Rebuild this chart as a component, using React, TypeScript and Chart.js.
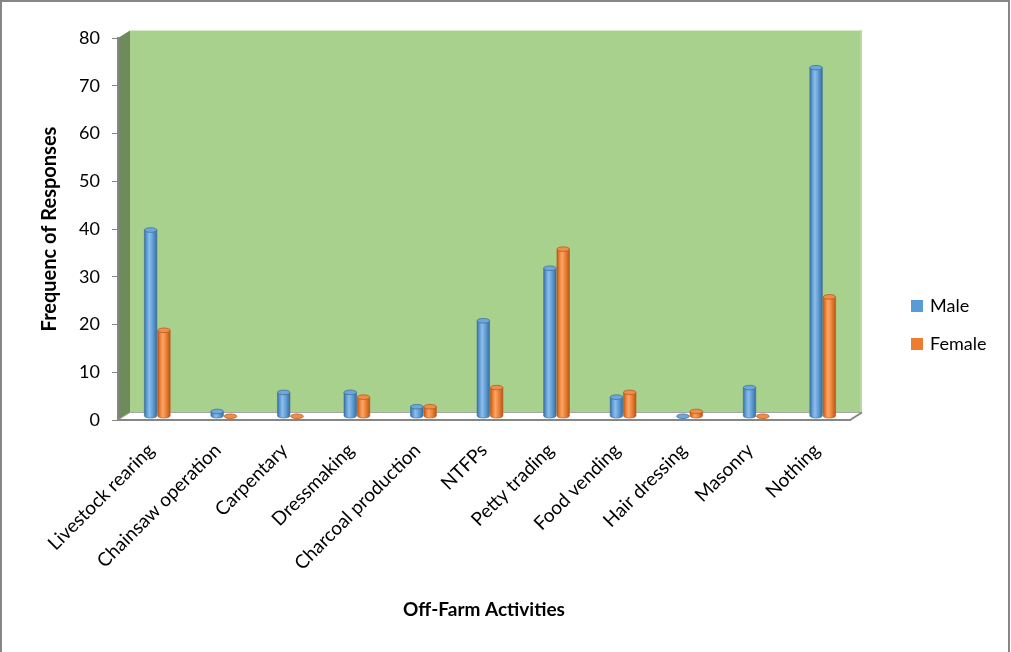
import React, { useEffect, useRef } from "react";
import { Chart, registerables } from "chart.js";

Chart.register(...registerables);

const categories = [
  "Livestock rearing",
  "Chainsaw operation",
  "Carpentary",
  "Dressmaking",
  "Charcoal production",
  "NTFPs",
  "Petty trading",
  "Food vending",
  "Hair dressing",
  "Masonry",
  "Nothing",
];
const maleValues = [39, 1, 5, 5, 2, 20, 31, 4, 0, 6, 73];
const femaleValues = [18, 0, 0, 4, 2, 6, 35, 5, 1, 0, 25];
const seriesNames = ["Male", "Female"];
const yMin = 0;
const yMax = 80;
const yStep = 10;
const xTitle = "Off-Farm Activities";
const yTitle = "Frequenc of Responses";

const FONT = "Lato, 'Liberation Sans', sans-serif";
const DEPTH_X = 12;
const DEPTH_Y = 7.5;

const palettes = [
  { edge: "#3b6c9a", mid: "#5b9bd5", light: "#8fbde8", top: "#6da8dd", stroke: "#41719c" },
  { edge: "#b3561a", mid: "#ed7d31", light: "#f8a76a", top: "#f18d48", stroke: "#b85d1f" },
];

function drawCylinder(ctx: CanvasRenderingContext2D, x: number, top: number, bottom: number, w: number, p: any) {
  const rx = w / 2;
  const ry = 2.3;
  ctx.save();
  if (bottom - top > 0.5) {
    const g = ctx.createLinearGradient(x - rx, 0, x + rx, 0);
    g.addColorStop(0, p.edge);
    g.addColorStop(0.18, p.mid);
    g.addColorStop(0.4, p.light);
    g.addColorStop(0.7, p.mid);
    g.addColorStop(1, p.edge);
    ctx.beginPath();
    ctx.moveTo(x - rx, top);
    ctx.lineTo(x - rx, bottom);
    ctx.ellipse(x, bottom, rx, ry, 0, Math.PI, 0, true);
    ctx.lineTo(x + rx, top);
    ctx.closePath();
    ctx.fillStyle = g;
    ctx.fill();
    ctx.strokeStyle = p.stroke;
    ctx.lineWidth = 0.6;
    ctx.stroke();
  }
  ctx.beginPath();
  ctx.ellipse(x, top, rx, ry, 0, 0, Math.PI * 2);
  ctx.fillStyle = p.top;
  ctx.fill();
  ctx.strokeStyle = p.stroke;
  ctx.lineWidth = 0.8;
  ctx.stroke();
  ctx.restore();
}

const framePlugin = {
  id: "frame3d",
  beforeDraw(chart: any) {
    const { ctx, chartArea, width, height } = chart;
    const { left, right, top, bottom } = chartArea;
    ctx.save();
    ctx.fillStyle = "#ffffff";
    ctx.fillRect(0, 0, width, height);
    // outer border
    ctx.strokeStyle = "#868686";
    ctx.lineWidth = 2;
    ctx.beginPath();
    ctx.moveTo(1, height);
    ctx.lineTo(1, 1);
    ctx.lineTo(width - 2, 1);
    ctx.lineTo(width - 2, height);
    ctx.stroke();
    // back wall
    ctx.fillStyle = "#a9d18e";
    ctx.fillRect(left + DEPTH_X, top - DEPTH_Y, right - left, bottom - top);
    ctx.fillStyle = "#b7d9a0";
    ctx.fillRect(right + DEPTH_X - 2, top - DEPTH_Y, 2, bottom - top);
    // left side wall
    ctx.fillStyle = "#6f8b5c";
    ctx.beginPath();
    ctx.moveTo(left, top);
    ctx.lineTo(left + DEPTH_X, top - DEPTH_Y);
    ctx.lineTo(left + DEPTH_X, bottom - DEPTH_Y);
    ctx.lineTo(left, bottom);
    ctx.closePath();
    ctx.fill();
    // floor
    ctx.fillStyle = "#ffffff";
    ctx.strokeStyle = "#a6a6a6";
    ctx.lineWidth = 1;
    ctx.beginPath();
    ctx.moveTo(left, bottom);
    ctx.lineTo(left + DEPTH_X, bottom - DEPTH_Y);
    ctx.lineTo(right + DEPTH_X, bottom - DEPTH_Y);
    ctx.lineTo(right, bottom);
    ctx.closePath();
    ctx.fill();
    ctx.stroke();
    ctx.strokeStyle = "#868686";
    ctx.lineWidth = 2;
    ctx.beginPath();
    ctx.moveTo(right, bottom);
    ctx.lineTo(right + DEPTH_X, bottom - DEPTH_Y);
    ctx.stroke();
    ctx.restore();
  },
  afterDatasetsDraw(chart: any) {
    const ctx = chart.ctx;
    const dx = DEPTH_X / 2;
    const dy = -DEPTH_Y / 2;
    chart.data.datasets.forEach((_ds: any, i: number) => {
      const meta = chart.getDatasetMeta(i);
      meta.data.forEach((bar: any) => {
        const { x, y, base, width } = bar.getProps(["x", "y", "base", "width"], true);
        drawCylinder(ctx, x + dx, y + dy, base + dy, width, palettes[i]);
      });
    });
  },
  afterDraw(chart: any) {
    const ctx = chart.ctx;
    ctx.save();
    const colors = ["#5b9bd5", "#ed7d31"];
    const lx = 911;
    const ys = [306, 344];
    ctx.font = `18px ${FONT}`;
    ctx.textBaseline = "middle";
    ctx.textAlign = "left";
    seriesNames.forEach((name, i) => {
      ctx.fillStyle = colors[i];
      ctx.fillRect(lx, ys[i] - 6, 12, 12);
      ctx.fillStyle = "#000000";
      ctx.fillText(name, lx + 19, ys[i]);
    });
    ctx.restore();
  },
};

export default function App() {
  const ref = useRef<HTMLCanvasElement | null>(null);
  useEffect(() => {
    if (!ref.current) return;
    const chart = new Chart(ref.current, {
      type: "bar",
      data: {
        labels: categories,
        datasets: [
          { label: seriesNames[0], data: maleValues, backgroundColor: "rgba(0,0,0,0)", categoryPercentage: 0.4, barPercentage: 0.94 },
          { label: seriesNames[1], data: femaleValues, backgroundColor: "rgba(0,0,0,0)", categoryPercentage: 0.4, barPercentage: 0.94 },
        ],
      },
      options: {
        responsive: false,
        animation: false,
        layout: { padding: { top: 38, right: 161, bottom: 0, left: 0 } },
        plugins: { legend: { display: false }, tooltip: { enabled: false } },
        scales: {
          x: {
            grid: { display: false },
            border: { display: true, color: "#868686", width: 2 },
            ticks: {
              color: "#000000",
              font: { family: FONT, size: 19 },
              minRotation: 45,
              maxRotation: 45,
              padding: 11,
              autoSkip: false,
            },
            title: {
              display: true,
              text: xTitle,
              color: "#000000",
              font: { family: FONT, size: 19, weight: "bold" },
              padding: { top: 0, bottom: 31 },
            },
            afterFit: (scale: any) => {
              scale.height = 232;
            },
          },
          y: {
            min: yMin,
            max: yMax,
            grid: { drawOnChartArea: false, drawTicks: true, tickLength: 6, color: "#868686", lineWidth: 1 },
            border: { display: true, color: "#868686", width: 2 },
            ticks: {
              stepSize: yStep,
              color: "#000000",
              font: { family: FONT, size: 18 },
              padding: 12,
            },
            title: {
              display: true,
              text: yTitle,
              color: "#000000",
              font: { family: FONT, size: 20, weight: "bold" },
              padding: { top: 38, bottom: 0 },
            },
            afterFit: (scale: any) => {
              scale.width = 118;
            },
          },
        },
      },
      plugins: [framePlugin],
    });
    return () => chart.destroy();
  }, []);
  return (
    <div style={{ position: "absolute", left: 0, top: 0, width: 1011, height: 652 }}>
      <canvas ref={ref} width={1011} height={652} style={{ display: "block" }} />
    </div>
  );
}
